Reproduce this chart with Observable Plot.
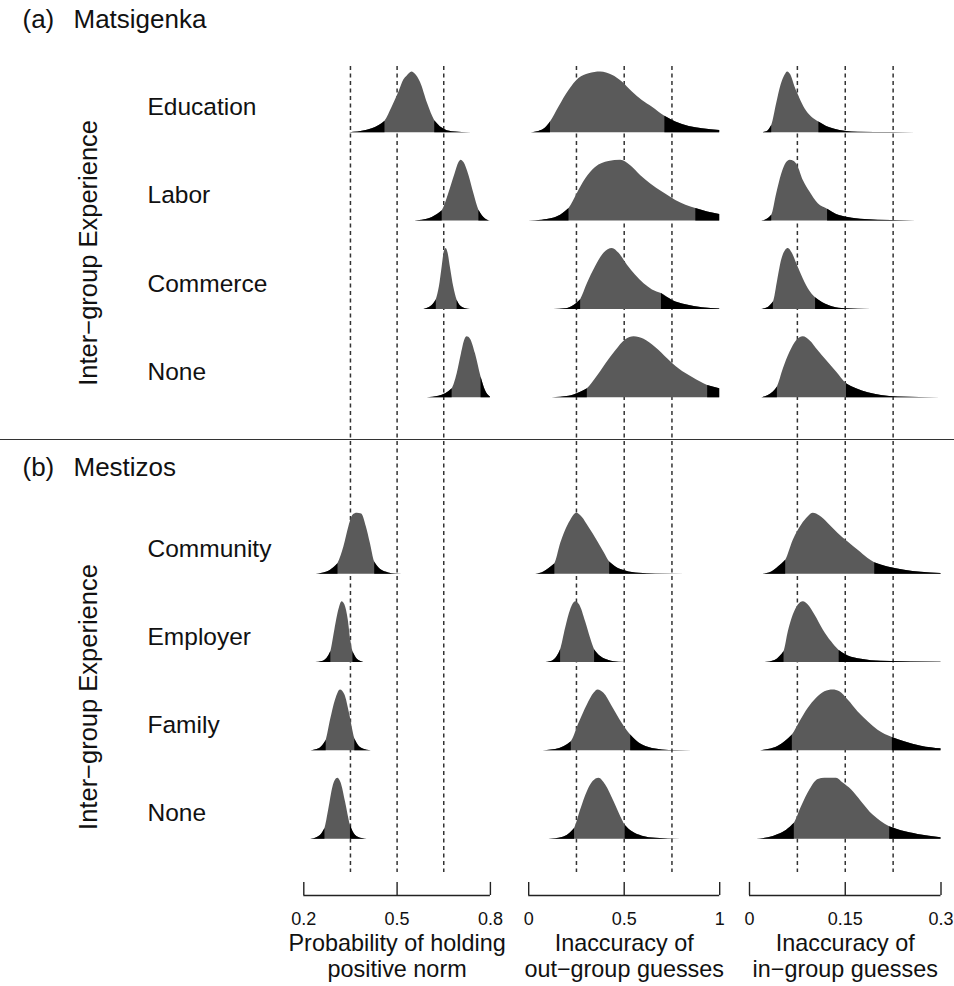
<!DOCTYPE html>
<html>
<head>
<meta charset="utf-8">
<script src="https://cdn.jsdelivr.net/npm/d3@7"></script>
<script src="https://cdn.jsdelivr.net/npm/@observablehq/plot@0.6"></script>
<style>
  body { margin: 0; background: #fff; }
  #fig { position: relative; width: 954px; height: 986px; background: #fff; overflow: hidden; }
  #fig svg { position: absolute; top: 0; }
  #fig .sep { position: absolute; left: 0; top: 438.5px; width: 954px; height: 0; border-top: 1.3px solid #333; }
</style>
</head>
<body>
<div id="fig"><div class="sep"></div></div>
<script>
// ---- labels ----
const groupTitles = [["(a)", "Matsigenka"], ["(b)", "Mestizos"]];
const experienceA = ["Education", "Labor", "Commerce", "None"];
const experienceB = ["Community", "Employer", "Family", "None"];
const experienceTitle = "Inter\u2212group Experience";

// ---- panel axes ----
const panelTitles = [
  ["Probability of holding", "positive norm"],
  ["Inaccuracy of", "out\u2212group guesses"],
  ["Inaccuracy of", "in\u2212group guesses"]
];
const panelDomains = [[0.2, 0.8], [0, 1], [0, 0.3]];
const tickValues = [[0.2, 0.5, 0.8], [0, 0.5, 1], [0, 0.15, 0.3]];
const tickLabels = [["0.2", "0.5", "0.8"], ["0", "0.5", "1"], ["0", "0.15", "0.3"]];
const guideValues = [[0.35, 0.5, 0.65], [0.25, 0.5, 0.75], [0.075, 0.15, 0.225]];

// ---- posterior densities: [value, relative density] (1 = mode of each curve)
// rows: Education, Labor, Commerce, None (Matsigenka); Community, Employer, Family, None (Mestizos)
const normDensity = [
  [[.334,0],[.388,.027],[.420,.066],[.441,.115],[.461,.19],[.484,.42],[.506,.67],[.522,.87],[.532,.93],[.548,1],[.559,.96],[.575,.83],[.598,.48],[.621,.20],[.645,.077],[.677,.016],[.741,0]],
  [[.532,0],[.581,.016],[.613,.06],[.645,.17],[.666,.45],[.686,.77],[.699,.96],[.706,1],[.715,.96],[.731,.75],[.747,.45],[.763,.18],[.779,.06],[.800,0]],
  [[.586,0],[.602,.027],[.615,.077],[.626,.16],[.636,.37],[.645,.70],[.652,.95],[.658,1],[.664,.92],[.672,.67],[.682,.37],[.693,.15],[.704,.055],[.720,.011],[.736,0]],
  [[.597,0],[.634,.022],[.656,.065],[.677,.147],[.693,.39],[.707,.72],[.718,.95],[.725,1],[.736,.96],[.752,.72],[.770,.34],[.784,.12],[.800,.01]],
  [[.232,0],[.264,.022],[.286,.066],[.310,.176],[.329,.45],[.345,.78],[.358,.97],[.372,1],[.386,.99],[.401,.78],[.414,.51],[.428,.20],[.447,.077],[.473,.022],[.495,.005],[.538,0]],
  [[.238,0],[.259,.016],[.275,.071],[.287,.18],[.300,.54],[.313,.87],[.323,1],[.332,.95],[.343,.70],[.351,.37],[.358,.18],[.372,.055],[.388,.011],[.398,0]],
  [[.216,0],[.243,.022],[.259,.077],[.272,.176],[.286,.505],[.302,.835],[.318,1],[.332,.92],[.347,.615],[.364,.2],[.382,.055],[.404,.011],[.431,0]],
  [[.222,0],[.243,.027],[.257,.082],[.268,.176],[.280,.48],[.294,.86],[.309,1],[.320,.92],[.334,.615],[.350,.23],[.366,.066],[.388,.011],[.404,0]]
];
const outDensity = [
  [[0,0],[.053,.022],[.088,.077],[.114,.176],[.158,.42],[.210,.69],[.263,.89],[.316,.97],[.377,1],[.438,.945],[.490,.835],[.543,.67],[.595,.53],[.648,.42],[.713,.27],[.770,.176],[.840,.104],[.910,.066],[1,.038]],
  [[0,0],[.071,.016],[.123,.043],[.167,.097],[.211,.205],[.254,.45],[.298,.69],[.350,.88],[.420,.978],[.482,1],[.534,.91],[.587,.745],[.639,.61],[.700,.476],[.770,.34],[.823,.26],[.875,.205],[.937,.15],[1,.11]],
  [[.132,0],[.193,.011],[.237,.066],[.272,.16],[.307,.42],[.350,.70],[.394,.92],[.438,1],[.473,.92],[.517,.725],[.560,.56],[.604,.42],[.648,.32],[.695,.26],[.753,.148],[.823,.077],[.910,.027],[1,.005]],
  [[.123,0],[.211,.022],[.263,.076],[.307,.147],[.350,.31],[.403,.55],[.456,.77],[.508,.95],[.552,1],[.604,.96],[.666,.82],[.727,.64],[.788,.47],[.858,.33],[.937,.20],[1,.147]],
  [[.036,0],[.079,.038],[.105,.092],[.137,.174],[.167,.50],[.193,.72],[.219,.88],[.251,1],[.280,.935],[.315,.77],[.359,.55],[.394,.36],[.424,.20],[.456,.12],[.508,.054],[.578,.016],[.666,.005],[.980,0]],
  [[.079,0],[.123,.022],[.149,.098],[.167,.21],[.193,.56],[.219,.86],[.246,1],[.267,.945],[.298,.67],[.324,.40],[.345,.21],[.377,.098],[.420,.033],[.473,.005],[.543,0]],
  [[.053,0],[.141,.022],[.184,.066],[.223,.148],[.263,.45],[.307,.755],[.342,.945],[.363,1],[.394,.945],[.438,.725],[.490,.45],[.534,.26],[.578,.13],[.630,.055],[.700,.016],[.770,.005],[.945,0]],
  [[.105,0],[.176,.027],[.210,.082],[.240,.176],[.272,.48],[.307,.78],[.337,.945],[.368,1],[.403,.89],[.447,.615],[.482,.37],[.505,.23],[.543,.12],[.595,.049],[.666,.016],[.797,0]]
];
const inDensity = [
  [[.0192,0],[.0270,.016],[.0348,.12],[.0426,.48],[.0494,.78],[.0556,.945],[.0598,1],[.0650,.945],[.0713,.75],[.0791,.56],[.0869,.395],[.0973,.26],[.1087,.176],[.1207,.104],[.1337,.06],[.1494,.027],[.1702,.011],[.2222,.005],[.3,0]],
  [[.0192,0],[.0270,.027],[.0348,.097],[.0426,.45],[.0504,.77],[.0582,.96],[.0635,1],[.0702,.98],[.0754,.91],[.0843,.665],[.0947,.476],[.1077,.286],[.1223,.195],[.1363,.11],[.1546,.06],[.1806,.027],[.2222,.011],[.3,0]],
  [[.0192,0],[.0286,.027],[.0374,.12],[.0442,.48],[.0504,.81],[.0567,.97],[.0608,1],[.0671,.92],[.0739,.755],[.0817,.56],[.0921,.34],[.1035,.19],[.1155,.104],[.1311,.038],[.1494,.011],[.1910,0]],
  [[.0192,0],[.0296,.038],[.0374,.092],[.0437,.174],[.0530,.47],[.0634,.745],[.0738,.935],[.0843,1],[.0947,.935],[.1077,.77],[.1207,.61],[.1363,.42],[.1519,.23],[.1676,.147],[.1858,.082],[.2066,.038],[.2326,.011],[.3,0]],
  [[.0192,0],[.0348,.038],[.0452,.12],[.0567,.23],[.0686,.56],[.0817,.81],[.0921,.945],[.0999,1],[.1103,.955],[.1233,.835],[.1389,.67],[.1545,.53],[.1702,.395],[.1858,.26],[.1962,.19],[.2170,.12],[.2430,.066],[.2691,.033],[.3,.011]],
  [[.0244,0],[.0400,.033],[.0478,.098],[.0541,.18],[.0609,.51],[.0686,.78],[.0765,.945],[.0843,1],[.0921,.945],[.1025,.78],[.1155,.535],[.1285,.34],[.1405,.197],[.1546,.11],[.1754,.055],[.2066,.022],[.3,.005]],
  [[.0114,0],[.0296,.022],[.0452,.077],[.0556,.148],[.0671,.26],[.0791,.48],[.0921,.70],[.1051,.865],[.1181,.97],[.1311,1],[.1415,.97],[.1545,.835],[.1702,.64],[.1858,.48],[.2014,.34],[.2238,.22],[.2430,.148],[.2691,.077],[.3,.033]],
  [[.0114,0],[.0296,.022],[.0452,.077],[.0582,.148],[.0702,.26],[.0817,.535],[.0947,.81],[.1077,.98],[.1181,1],[.1363,1],[.1467,.92],[.1597,.81],[.1754,.615],[.1936,.395],[.2066,.285],[.2196,.203],[.2378,.137],[.2639,.077],[.3,.022]]
];

// 90% intervals (grey); the tails outside them are drawn in black
const normInterval = [[.461,.621],[.645,.763],[.626,.693],[.677,.770],[.310,.428],[.287,.358],[.272,.364],[.268,.350]];
const outInterval  = [[.114,.713],[.211,.875],[.272,.695],[.307,.937],[.137,.424],[.167,.345],[.223,.534],[.240,.505]];
const inInterval   = [[.0348,.1087],[.0348,.1223],[.0374,.1035],[.0437,.1519],[.0567,.1962],[.0541,.1405],[.0671,.2238],[.0702,.2196]];

// ---- layout (vertical unit = one ridge row) ----
const slots = [0, 1, 2, 3, 5, 6, 7, 8];   // row 4 is the gap between the two groups
const ridgeHeight = 0.69;                 // height of a mode, in rows
const yTop = -0.751, yGuideEnd = 8.377, yAxis = 8.638, yTickTop = 8.49;
const font = "'Liberation Sans', Arial, Helvetica, sans-serif";

const frames = [
  {left: 0,   width: 510, marginLeft: 303.3, marginRight: 20.1},
  {left: 510, width: 225, marginLeft: 18.2,  marginRight: 15.8},
  {left: 735, width: 219, marginLeft: 14,    marginRight: 13.5}
];

function panel(p, density, interval) {
  const f = frames[p];
  const table = density.flatMap((pts, i) => pts.map(([v, h]) => ({key: i, slot: slots[i], v, h})));
  const tails = density.flatMap((pts, i) => {
    const [lo, hi] = interval[i];
    return [
      ...pts.filter(([v]) => v <= lo).map(([v, h]) => ({key: i + "L", slot: slots[i], v, h})),
      ...pts.filter(([v]) => v >= hi).map(([v, h]) => ({key: i + "R", slot: slots[i], v, h}))
    ];
  });
  const ridge = {x: "v", y1: "slot", y2: d => d.slot - ridgeHeight * d.h, z: "key", curve: "monotone-x"};
  const mid = tickValues[p][1];
  const marks = [
    Plot.ruleX(guideValues[p], {y1: yTop, y2: yGuideEnd, stroke: "#333", strokeWidth: 1.5, strokeDasharray: "4,3.5"}),
    Plot.areaY(table, {...ridge, fill: "#5a5a5a"}),
    Plot.areaY(tails, {...ridge, fill: "#000"}),
    Plot.ruleY([yAxis], {stroke: "#222", strokeWidth: 1.4}),
    Plot.ruleX(tickValues[p], {y1: yAxis, y2: yTickTop, stroke: "#222", strokeWidth: 1.4}),
    Plot.text(tickValues[p], {x: d => d, text: (d, i) => tickLabels[p][i], frameAnchor: "bottom", dy: 29, fontSize: 18}),
    Plot.text([panelTitles[p][0]], {x: mid, text: d => d, frameAnchor: "bottom", dy: 55, fontSize: 23.4}),
    Plot.text([panelTitles[p][1]], {x: mid, text: d => d, frameAnchor: "bottom", dy: 81, fontSize: 23.4})
  ];
  if (p === 0) {
    const rows = [...experienceA, ...experienceB].map((name, i) => ({name, slot: slots[i]}));
    const dxFrom = px => px - f.marginLeft;
    const titleY = [-1.285, 3.79];
    marks.push(
      Plot.text(rows, {y: d => d.slot - 0.29, text: "name", frameAnchor: "left", dx: dxFrom(147), textAnchor: "start", fontSize: 24.5}),
      Plot.text(groupTitles, {y: (d, i) => titleY[i], text: d => d[0], frameAnchor: "left", dx: dxFrom(22), textAnchor: "start", fontSize: 26}),
      Plot.text(groupTitles, {y: (d, i) => titleY[i], text: d => d[1], frameAnchor: "left", dx: dxFrom(73), textAnchor: "start", fontSize: 26}),
      Plot.text([1.36, 6.39], {y: d => d, text: () => experienceTitle, frameAnchor: "left", dx: dxFrom(88), textAnchor: "middle", rotate: -90, fontSize: 25.5})
    );
  }
  const svg = Plot.plot({
    width: f.width,
    height: 986,
    marginTop: 66,
    marginBottom: 91,
    marginLeft: f.marginLeft,
    marginRight: f.marginRight,
    x: {domain: panelDomains[p], axis: null},
    y: {domain: [yAxis, yTop], axis: null},
    style: {background: "transparent", fontFamily: font, color: "#111", overflow: "visible"},
    marks
  });
  svg.style.left = f.left + "px";
  return svg;
}

const fig = document.getElementById("fig");
fig.append(panel(0, normDensity, normInterval));
fig.append(panel(1, outDensity, outInterval));
fig.append(panel(2, inDensity, inInterval));
</script>
</body>
</html>
